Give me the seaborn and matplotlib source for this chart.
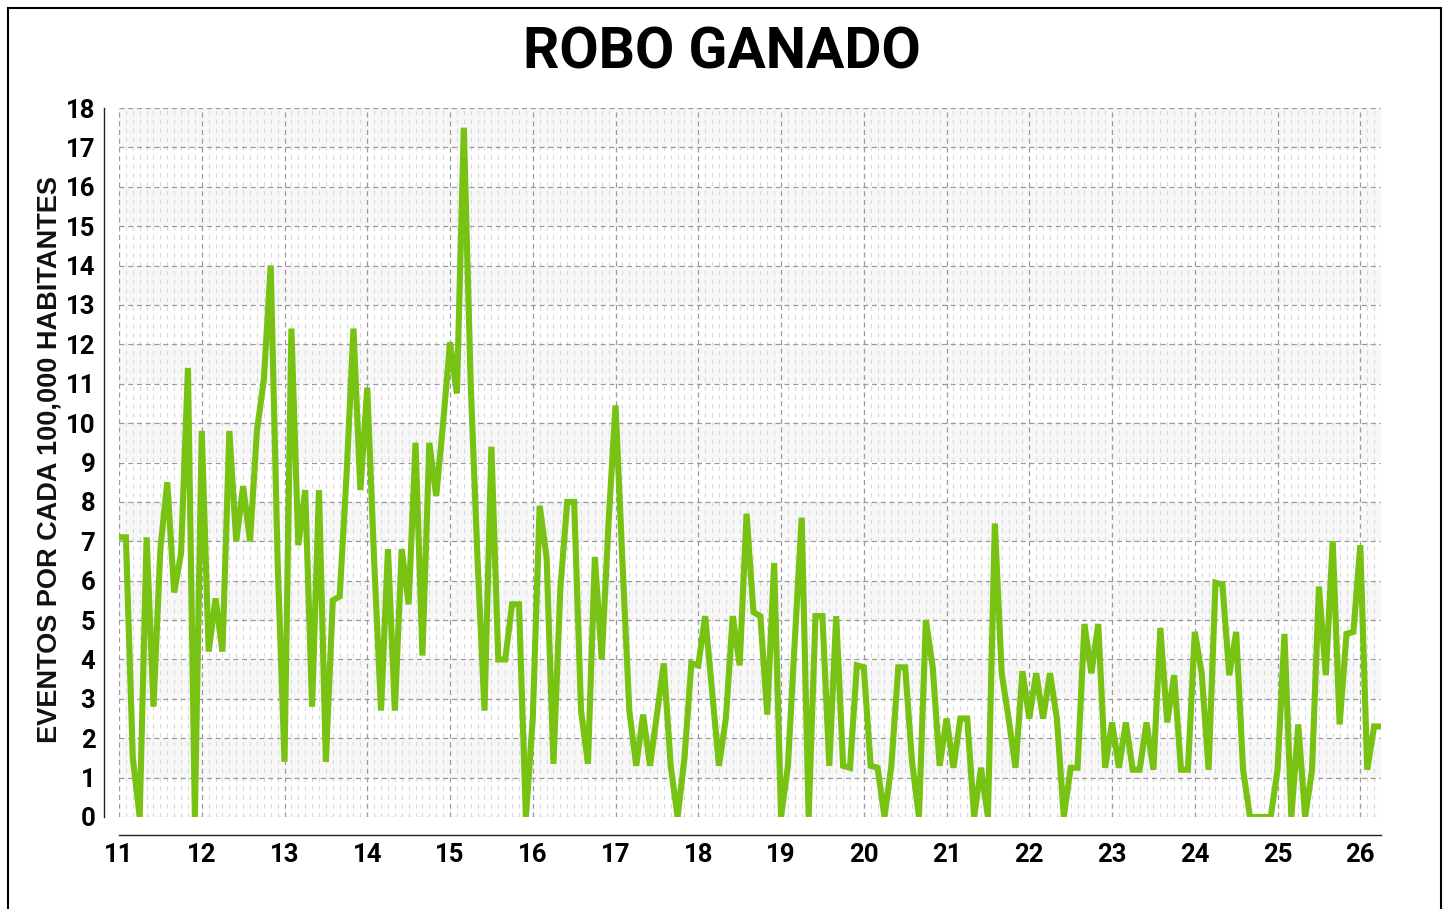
import numpy as np
import pandas as pd
import matplotlib
matplotlib.use("Agg")
import matplotlib.pyplot as plt
from matplotlib.ticker import MultipleLocator, FixedLocator
from matplotlib.patches import Rectangle
import seaborn as sns

# Monthly rate of cattle theft per 100,000 inhabitants, January of each year onward
y2011 = [7.1, 7.1, 1.5, 0.0, 7.1, 2.8, 6.8, 8.5, 5.7, 6.7, 11.4, 0.0]
y2012 = [9.8, 4.2, 5.55, 4.2, 9.8, 7.0, 8.4, 7.0, 9.8, 11.1, 14.0, 6.5]
y2013 = [1.4, 12.4, 6.9, 8.3, 2.8, 8.3, 1.4, 5.5, 5.6, 8.7, 12.4, 8.3]
y2014 = [10.9, 6.5, 2.7, 6.8, 2.7, 6.8, 5.4, 9.5, 4.1, 9.5, 8.15, 10.0]
y2015 = [12.05, 10.75, 17.5, 11.0, 6.5, 2.7, 9.4, 4.0, 4.0, 5.4, 5.4, 0.0]
y2016 = [2.5, 7.9, 6.6, 1.35, 5.8, 8.0, 8.0, 2.7, 1.35, 6.6, 4.0, 7.5]
y2017 = [10.45, 6.5, 2.7, 1.3, 2.6, 1.3, 2.6, 3.9, 1.3, 0.0, 1.5, 3.9]
y2018 = [3.85, 5.1, 3.2, 1.3, 2.5, 5.1, 3.85, 7.7, 5.2, 5.1, 2.6, 6.45]
y2019 = [0.0, 1.3, 4.5, 7.6, 0.0, 5.1, 5.1, 1.3, 5.1, 1.3, 1.25, 3.85]
y2020 = [3.8, 1.3, 1.25, 0.0, 1.3, 3.8, 3.8, 1.4, 0.0, 5.0, 3.8, 1.3]
y2021 = [2.5, 1.25, 2.5, 2.5, 0.0, 1.25, 0.0, 7.45, 3.65, 2.5, 1.25, 3.7]
y2022 = [2.5, 3.65, 2.5, 3.65, 2.5, 0.0, 1.25, 1.25, 4.9, 3.65, 4.9, 1.25]
y2023 = [2.4, 1.25, 2.4, 1.2, 1.2, 2.4, 1.2, 4.8, 2.4, 3.6, 1.2, 1.2]
y2024 = [4.7, 3.65, 1.2, 5.95, 5.9, 3.6, 4.7, 1.2, 0.0, 0.0, 0.0, 0.0]
y2025 = [1.2, 4.65, 0.0, 2.35, 0.0, 1.2, 5.85, 3.6, 7.0, 2.35, 4.65, 4.7]
y2026 = [6.9, 1.2, 2.3, 2.3]

year_ticks = list(range(11, 27))
y_ticks = list(range(0, 19))
title = "ROBO GANADO"
ylabel = "EVENTOS POR CADA 100,000 HABITANTES"

series = (y2011 + y2012 + y2013 + y2014 + y2015 + y2016 + y2017 + y2018
          + y2019 + y2020 + y2021 + y2022 + y2023 + y2024 + y2025 + y2026)
df = pd.DataFrame({
    "t": 11 + np.arange(len(series)) / 12.0,
    "rate": series,
})

sns.set_theme(style="white")
face = ["Roboto", "DejaVu Sans"]
plt.rcParams["font.family"] = face

W, H = 1449, 909
fig = plt.figure(figsize=(W / 100, H / 100), dpi=100)
fig.patch.set_facecolor("white")

# plot area in pixel coordinates
x0, x1, ytop, ybot = 119, 1381, 108, 817
ax = fig.add_axes([x0 / W, 1 - ybot / H, (x1 - x0) / W, (ybot - ytop) / H])
ax.set_facecolor("white")

# soft alternating bands behind the data
for k in range(1, 18, 2):
    ax.axhspan(k, k + 1, color="#f7f7f7", zorder=0, lw=0)

sns.lineplot(data=df, x="t", y="rate", ax=ax, color="#77c212",
             linewidth=4.4, zorder=3, solid_joinstyle="miter")

ax.set_xlim(11, 26.25)
ax.set_ylim(0, 18)
ax.xaxis.set_major_locator(FixedLocator(year_ticks))
ax.yaxis.set_major_locator(FixedLocator(y_ticks))
ax.xaxis.set_minor_locator(MultipleLocator(1 / 12))
ax.set_xticklabels([str(v) for v in year_ticks])
ax.set_yticklabels([str(v) for v in y_ticks])

ax.grid(which="major", axis="both", color="#9a9a9a", linestyle=(0, (4, 3)),
        linewidth=0.9, zorder=1)
ax.grid(which="minor", axis="x", color="#d9d9d9", linestyle=(0, (4, 4)),
        linewidth=0.8, zorder=1)
ax.set_axisbelow(True)

for side in ("top", "right"):
    ax.spines[side].set_visible(False)
ax.spines["left"].set_position(("outward", 11))
ax.spines["bottom"].set_position(("outward", 13))
for side in ("left", "bottom"):
    ax.spines[side].set_color("#222222")
    ax.spines[side].set_linewidth(1.0)

ax.tick_params(which="major", direction="out", length=5, width=1,
               color="#222222", pad=1)
ax.tick_params(which="minor", length=0)
for lab in ax.get_xticklabels() + ax.get_yticklabels():
    lab.set_fontweight("bold")
    lab.set_fontsize(18.5)
    lab.set_color("black")

ax.set_xlabel("")
ax.set_ylabel(ylabel, fontsize=19.5, fontweight="bold",
              family=["Liberation Sans", "DejaVu Sans"], color="#111111")
ax.yaxis.set_label_coords((63 - x0) / (x1 - x0), (ybot - 460) / (ybot - ytop))

fig.text(722 / W, 1 - 53 / H, title, ha="center", va="center",
         fontsize=41, fontweight="bold", color="black")

# outer frame around the figure
fig.patches.append(Rectangle((8 / W, -0.01), (1441 - 8) / W, 1 - 8 / H + 0.01,
                             transform=fig.transFigure, fill=False,
                             edgecolor="black", linewidth=1.5))

fig.savefig("out.png", dpi=100)
